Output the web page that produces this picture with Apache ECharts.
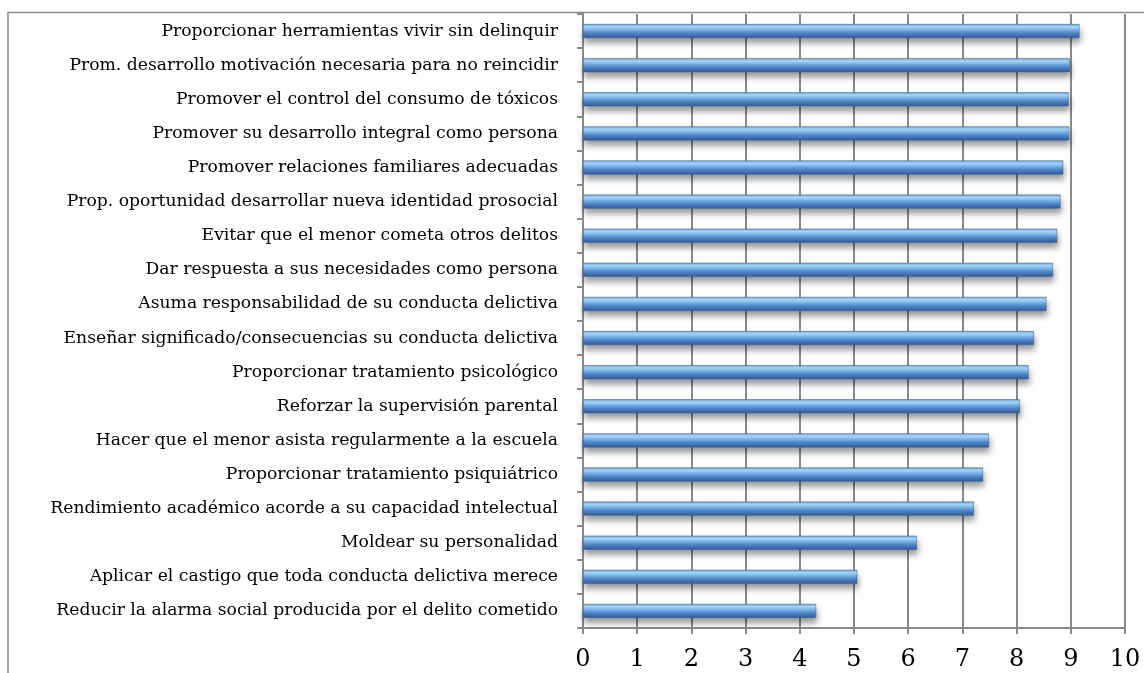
<!DOCTYPE html>
<html>
<head>
<meta charset="utf-8">
<script src="https://cdn.jsdelivr.net/npm/echarts@6/dist/echarts.min.js"></script>
<style>
  html, body { margin: 0; padding: 0; background: #fff; }
  #chart { width: 1144px; height: 673px; }
</style>
</head>
<body>
<div id="chart"></div>
<script>
// categories, top to bottom as in the picture
const categories = [
  'Proporcionar herramientas vivir sin delinquir',
  'Prom. desarrollo motivación necesaria para no reincidir',
  'Promover el control del consumo de tóxicos',
  'Promover su desarrollo integral como persona',
  'Promover relaciones familiares adecuadas',
  'Prop. oportunidad desarrollar nueva identidad prosocial',
  'Evitar que el menor cometa otros delitos',
  'Dar respuesta a sus necesidades como persona',
  'Asuma responsabilidad de su conducta delictiva',
  'Enseñar significado/consecuencias su conducta delictiva',
  'Proporcionar tratamiento psicológico',
  'Reforzar la supervisión parental',
  'Hacer que el menor asista regularmente a la escuela',
  'Proporcionar tratamiento psiquiátrico',
  'Rendimiento académico acorde a su capacidad intelectual',
  'Moldear su personalidad',
  'Aplicar el castigo que toda conducta delictiva merece',
  'Reducir la alarma social producida por el delito cometido'
];

const scores = [
  9.16, 8.98, 8.96, 8.97, 8.86, 8.81, 8.75, 8.67, 8.55,
  8.32, 8.22, 8.06, 7.49, 7.38, 7.21, 6.16, 5.06, 4.30
];

const xTicks = [0, 1, 2, 3, 4, 5, 6, 7, 8, 9, 10];

const chart = echarts.init(document.getElementById('chart'));

const barColor = new echarts.graphic.LinearGradient(0, 0, 0, 1, [
  { offset: 0, color: '#6a9fdc' },
  { offset: 0.2, color: '#a8dcfb' },
  { offset: 0.4, color: '#7fb8ef' },
  { offset: 0.65, color: '#4f87cb' },
  { offset: 1, color: '#34598f' }
]);

const option = {
  animation: false,
  backgroundColor: '#ffffff',
  grid: { left: 583, right: 19, top: 14, bottom: 45 },
  graphic: [
    {
      type: 'polyline',
      silent: true,
      shape: { points: [[8, 673], [8, 12.5], [1144, 12.5]] },
      style: { stroke: '#8a8a8a', lineWidth: 1.5, fill: null }
    }
  ],
  xAxis: {
    type: 'value',
    min: xTicks[0],
    max: xTicks[xTicks.length - 1],
    interval: 1,
    axisLine: { show: true, lineStyle: { color: '#8a8a8a', width: 2 } },
    axisTick: { show: true, length: 6, lineStyle: { color: '#8a8a8a', width: 2 } },
    axisLabel: {
      margin: 20,
      fontFamily: 'DejaVu Serif',
      fontSize: 24,
      color: '#000'
    },
    splitLine: { show: true, lineStyle: { color: '#8a8a8a', width: 2 } }
  },
  yAxis: {
    type: 'category',
    inverse: true,
    data: categories,
    axisLine: { show: true, lineStyle: { color: '#8a8a8a', width: 2 } },
    axisTick: { show: true, length: 6, lineStyle: { color: '#8a8a8a', width: 2 } },
    axisLabel: {
      margin: 25,
      fontFamily: 'DejaVu Serif',
      fontSize: 17.2,
      color: '#000'
    }
  },
  series: [
    {
      type: 'bar',
      data: scores,
      barWidth: 14,
      itemStyle: {
        color: barColor,
        borderColor: '#3b5f93',
        borderWidth: 0.5,
        shadowColor: 'rgba(0,0,0,0.4)',
        shadowBlur: 6,
        shadowOffsetY: 5,
        shadowOffsetX: 1
      }
    }
  ]
};

chart.setOption(option);
</script>
</body>
</html>
